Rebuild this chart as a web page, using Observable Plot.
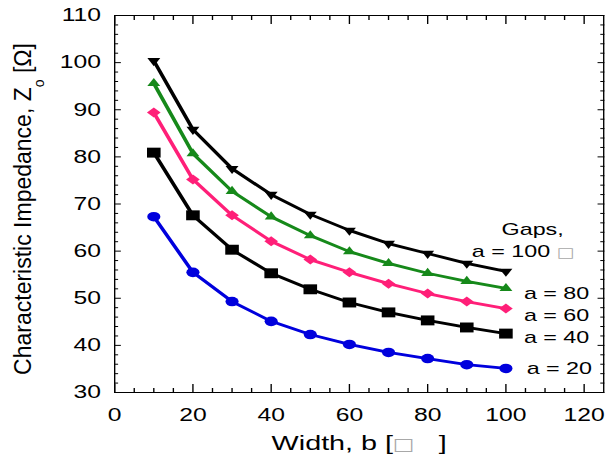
<!DOCTYPE html>
<html><head><meta charset="utf-8">
<script src="https://cdn.jsdelivr.net/npm/d3@7"></script>
<script src="https://cdn.jsdelivr.net/npm/@observablehq/plot@0.6"></script>
<style>html,body{margin:0;padding:0;background:#fff;}</style>
</head><body><div id="chart"></div>
<script>
// ---- data ----
const widths = [10, 20, 30, 40, 50, 60, 70, 80, 90, 100];
const zA100 = [100.4, 85.8, 77.5, 72.0, 67.8, 64.4, 61.6, 59.5, 57.4, 55.7];
const zA80  = [95.6, 80.7, 72.7, 67.3, 63.3, 59.9, 57.4, 55.3, 53.6, 52.1];
const zA60  = [89.4, 75.2, 67.6, 62.1, 58.2, 55.5, 53.1, 51.0, 49.3, 47.8];
const zA40  = [80.9, 67.6, 60.3, 55.3, 51.9, 49.1, 47.0, 45.3, 43.8, 42.5];
const zA20  = [67.3, 55.5, 49.3, 45.1, 42.3, 40.2, 38.5, 37.2, 35.9, 35.1];
const seriesNames = ["a = 100", "a = 80", "a = 60", "a = 40", "a = 20"];
const seriesColors = ["#000000", "#16891a", "#ff1f78", "#000000", "#0000dd"];
const seriesSymbols = ["triangleDown", "triangle", "diamond2", "square", "circle"];
const seriesR = [3.5, 3.5, 4.5, 5.6, 4.8];

const labelTexts = ["Gaps,", "a = 100 \u25A1", "a = 80", "a = 60", "a = 40", "a = 20"];
const labelX = [98.9, 91.3, 104.6, 104.6, 104.6, 105.3];
const labelY = [64.5, 59.9, 51.1, 46.3, 41.6, 35.1];

const xTicks = [0, 20, 40, 60, 80, 100, 120];
const yTicks = [30, 40, 50, 60, 70, 80, 90, 100, 110];
const xTitle = "Width, b [\u25A1\u00a0\u00a0\u00a0]";
const yTitleParts = ["Characteristic Impedance, Z", "o", " [\u03A9]"];

// ---- build ----
const seriesValues = [zA100, zA80, zA60, zA40, zA20];
const rows = seriesNames.flatMap((name, i) => widths.map((b, j) => ({series: name, b, z: seriesValues[i][j]})));
const triangleDown = {
  draw(context, size) {
    const y = Math.sqrt(size / (Math.sqrt(3) * 3));
    const s3 = Math.sqrt(3);
    context.moveTo(0, 2 * y);
    context.lineTo(-s3 * y, -y);
    context.lineTo(s3 * y, -y);
    context.closePath();
  }
};
const symbolOf = s => s === "triangleDown" ? triangleDown : s;
const minorY = d3.range(30, 111, 2).filter(v => v % 10 !== 0);
const minorX = d3.range(5, 125, 5).filter(v => v % 20 !== 0);
const labels = labelTexts.map((t, i) => ({t, x: labelX[i], y: labelY[i]}));

const STRETCH = 1.3702;
const VW = 443;

const marks = [
  Plot.frame({stroke: "black", strokeWidth: 1}),
  Plot.axisY(yTicks, {anchor: "left", tickSize: 0, tickPadding: 10, fontSize: 18, label: null}),
  Plot.axisY(yTicks, {anchor: "left", tickSize: -5, fill: "none", label: null}),
  Plot.axisY(minorY, {anchor: "left", tickSize: -3, fill: "none", label: null}),
  Plot.axisY(yTicks, {anchor: "right", tickSize: -5, fill: "none", label: null}),
  Plot.axisY(minorY, {anchor: "right", tickSize: -3, fill: "none", label: null}),
  Plot.axisX(xTicks, {anchor: "bottom", tickSize: 0, tickPadding: 16, fontSize: 18, label: null}),
  Plot.axisX(xTicks, {anchor: "bottom", tickSize: -8, fill: "none", label: null}),
  Plot.axisX(minorX, {anchor: "bottom", tickSize: -4, fill: "none", label: null}),
  Plot.axisX(xTicks, {anchor: "top", tickSize: -8, fill: "none", label: null}),
  Plot.axisX(minorX, {anchor: "top", tickSize: -4, fill: "none", label: null}),
  ...seriesNames.map((name, i) => Plot.line(rows.filter(r => r.series === name), {
    x: "b", y: "z", stroke: seriesColors[i], strokeWidth: 2.8
  })),
  ...seriesNames.map((name, i) => Plot.dot(rows.filter(r => r.series === name), {
    x: "b", y: "z", fill: seriesColors[i], stroke: "none", r: seriesR[i], symbol: symbolOf(seriesSymbols[i])
  })),
  Plot.text(labels, {x: "x", y: "y", text: "t", textAnchor: "start", fontSize: 17, fill: "black"}),
  Plot.text([xTitle], {text: d => d, frameAnchor: "bottom", textAnchor: "middle", dy: 57.5, fontSize: 21, fill: "black"}),
  Plot.text([yTitleParts.join("")], {text: d => d, frameAnchor: "left", textAnchor: "middle", rotate: -90, dx: -66.8, dy: 5, fontSize: 23, fill: "black"})
];

const svg = Plot.plot({
  width: VW,
  height: 465,
  marginLeft: 83.2,
  marginRight: 2.9,
  marginTop: 15,
  marginBottom: 73,
  x: {domain: [0, 125]},
  y: {domain: [30, 110]},
  style: {fontFamily: "'Liberation Sans', Arial, sans-serif", background: "white", color: "black", overflow: "visible"},
  marks
});

// horizontal stretch of the whole picture, like the reference
svg.setAttribute("width", Math.round(VW * STRETCH));
svg.setAttribute("height", 465);
svg.setAttribute("viewBox", `0 0 ${VW} 465`);
svg.setAttribute("preserveAspectRatio", "none");
svg.style.maxWidth = "none";

// post-process texts: grey box glyph, subscript in y title
svg.querySelectorAll("text").forEach(t => {
  const s = t.textContent;
  if (s === yTitleParts.join("")) {
    t.textContent = "";
    const ns = "http://www.w3.org/2000/svg";
    const a = document.createElementNS(ns, "tspan"); a.textContent = yTitleParts[0];
    const b = document.createElementNS(ns, "tspan"); b.textContent = yTitleParts[1];
    b.setAttribute("dy", "13"); b.setAttribute("font-size", "14");
    const c = document.createElementNS(ns, "tspan"); c.textContent = yTitleParts[2];
    c.setAttribute("dy", "-13");
    t.append(a, b, c);
    const tr = t.getAttribute("transform") || "";
    t.setAttribute("transform", tr + ` scale(1,${1 / STRETCH})`);
  } else if (s.includes("\u25A1")) {
    t.textContent = "";
    const ns = "http://www.w3.org/2000/svg";
    s.split(/(\u25A1)/).forEach(part => {
      if (!part) return;
      const sp = document.createElementNS(ns, "tspan");
      sp.textContent = part;
      if (part === "\u25A1") { sp.setAttribute("fill", "#a8a8a8"); sp.setAttribute("font-family", "'DejaVu Sans', sans-serif"); sp.setAttribute("font-size", "0.8em"); }
      t.appendChild(sp);
    });
  }
});

document.getElementById("chart").appendChild(svg);
</script>
</body></html>
